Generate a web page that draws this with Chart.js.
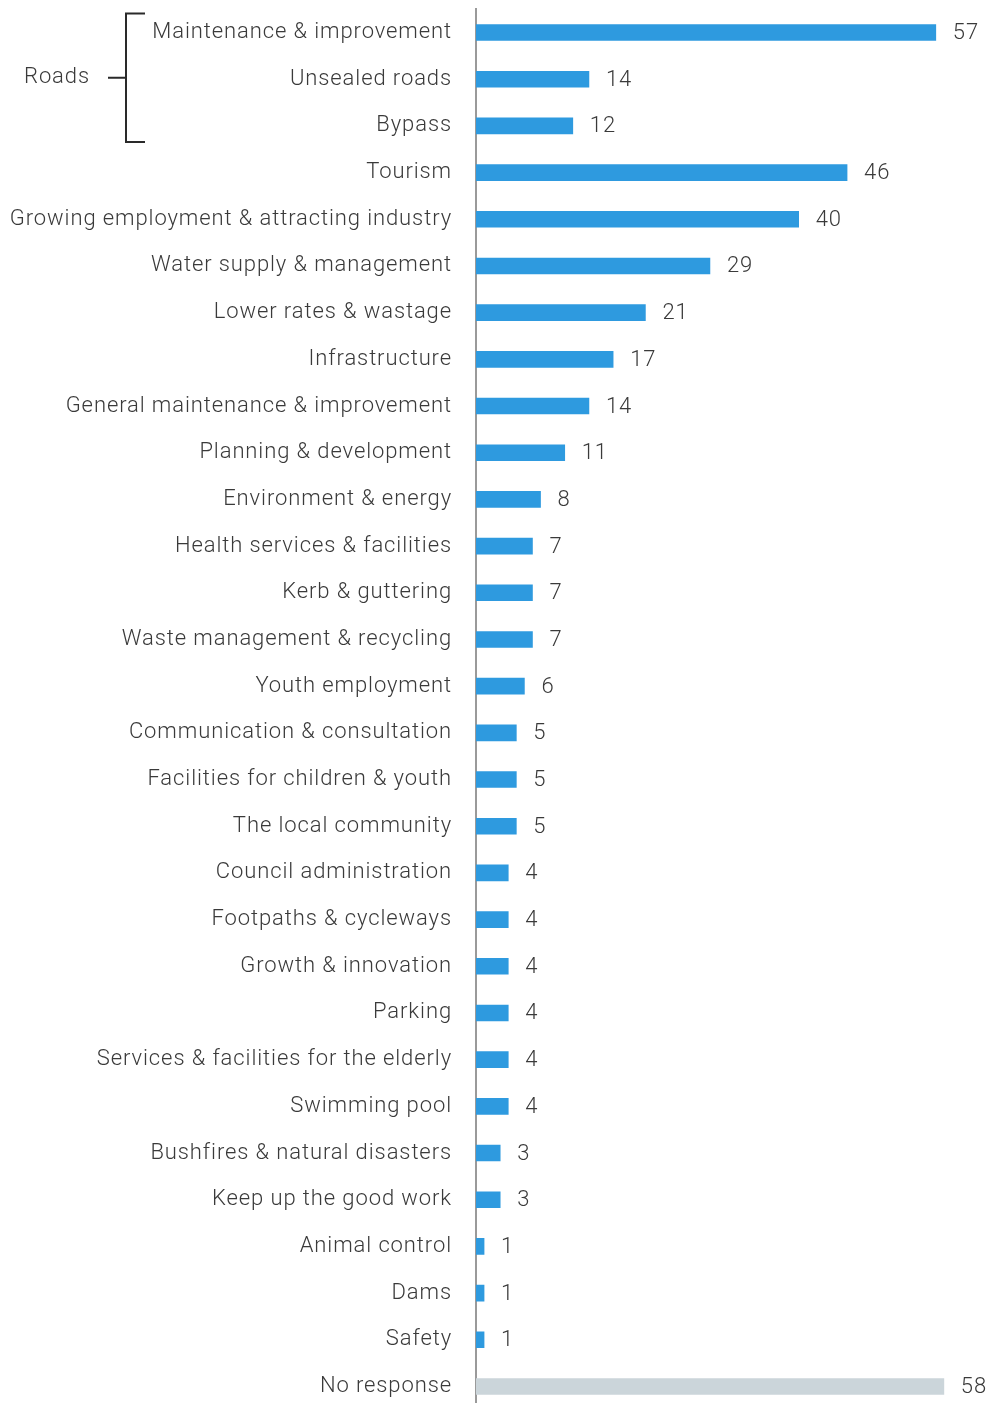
<!DOCTYPE html>
<html>
<head>
<meta charset="utf-8">
<script src="https://cdn.jsdelivr.net/npm/chart.js@4/dist/chart.umd.min.js"></script>
<style>
  html, body { margin: 0; padding: 0; background: #fff; overflow: hidden; }
  #wrap { position: absolute; left: 0; top: -4px; width: 989px; height: 1427px; }
</style>
</head>
<body>
<div id="wrap"><canvas id="chart"></canvas></div>
<script>
const categories = [
  "Maintenance & improvement",
  "Unsealed roads",
  "Bypass",
  "Tourism",
  "Growing employment & attracting industry",
  "Water supply & management",
  "Lower rates & wastage",
  "Infrastructure",
  "General maintenance & improvement",
  "Planning & development",
  "Environment & energy",
  "Health services & facilities",
  "Kerb & guttering",
  "Waste management & recycling",
  "Youth employment",
  "Communication & consultation",
  "Facilities for children & youth",
  "The local community",
  "Council administration",
  "Footpaths & cycleways",
  "Growth & innovation",
  "Parking",
  "Services & facilities for the elderly",
  "Swimming pool",
  "Bushfires & natural disasters",
  "Keep up the good work",
  "Animal control",
  "Dams",
  "Safety",
  "No response"
];

const responses = [57, 14, 12, 46, 40, 29, 21, 17, 14, 11, 8, 7, 7, 7, 6, 5, 5, 5, 4, 4, 4, 4, 4, 4, 3, 3, 1, 1, 1, 58];

// Categories gathered under the "Roads" bracket
const groupLabel = "Roads";
const groupMembers = ["Maintenance & improvement", "Unsealed roads", "Bypass"];

const BLUE = "#2E9ADF";
const GREY = "#CBD5DA";
const TEXT = "#3a3a3a";
const FONT = "Roboto, 'DejaVu Sans', sans-serif";
const SPACING = "0.9px";

const barColors = categories.map(c => c === "No response" ? GREY : BLUE);

// Slightly tracked-out lettering for every text on the canvas
const tracking = {
  id: "tracking",
  beforeUpdate(chart) { chart.ctx.letterSpacing = SPACING; },
  beforeLayout(chart) { chart.ctx.letterSpacing = SPACING; },
  beforeDraw(chart) { chart.ctx.letterSpacing = SPACING; }
};

// Writes each value just past the end of its bar
const valueLabels = {
  id: "valueLabels",
  afterDatasetsDraw(chart) {
    const ctx = chart.ctx;
    const meta = chart.getDatasetMeta(0);
    ctx.save();
    ctx.letterSpacing = SPACING;
    ctx.font = "300 22px " + FONT;
    ctx.fillStyle = TEXT;
    ctx.textAlign = "left";
    ctx.textBaseline = "middle";
    meta.data.forEach((bar, i) => {
      ctx.fillText(String(chart.data.datasets[0].data[i]), bar.x + 17, bar.y + 1);
    });
    ctx.restore();
  }
};

// Draws the bracket and its group name beside the first rows
const groupBracket = {
  id: "groupBracket",
  afterDraw(chart) {
    const ctx = chart.ctx;
    const y = chart.scales.y;
    const idx = groupMembers.map(m => categories.indexOf(m));
    const top = y.getPixelForValue(Math.min(...idx)) - 19;
    const bottom = y.getPixelForValue(Math.max(...idx)) + 16;
    const mid = (top + bottom) / 2;
    const bx = 126;
    ctx.save();
    ctx.strokeStyle = "#2a2a2a";
    ctx.lineWidth = 2;
    ctx.beginPath();
    ctx.moveTo(145, top);
    ctx.lineTo(bx, top);
    ctx.lineTo(bx, bottom);
    ctx.lineTo(145, bottom);
    ctx.moveTo(bx, mid);
    ctx.lineTo(108, mid);
    ctx.stroke();
    ctx.letterSpacing = SPACING;
    ctx.font = "300 22px " + FONT;
    ctx.fillStyle = TEXT;
    ctx.textAlign = "left";
    ctx.textBaseline = "middle";
    ctx.fillText(groupLabel, 24, mid);
    ctx.restore();
  }
};

new Chart(document.getElementById("chart"), {
  type: "bar",
  data: {
    labels: categories,
    datasets: [{
      data: responses,
      backgroundColor: barColors,
      borderWidth: 0,
      barThickness: 16
    }]
  },
  options: {
    indexAxis: "y",
    responsive: true,
    maintainAspectRatio: false,
    animation: false,
    layout: { padding: { top: 0, right: 29, bottom: 0, left: 0 } },
    plugins: {
      legend: { display: false },
      tooltip: { enabled: false }
    },
    scales: {
      x: {
        min: 0,
        max: 60,
        display: false,
        grid: { display: false }
      },
      y: {
        afterFit(scale) { scale.width = 476; },
        grid: {
          display: true,
          drawOnChartArea: false,
          drawTicks: true,
          tickLength: 24,
          tickColor: "rgba(0,0,0,0)"
        },
        border: { display: true, color: "#9a9a9a", width: 2 },
        ticks: {
          color: TEXT,
          padding: 0,
          font: { family: FONT, size: 22, weight: 300 }
        }
      }
    }
  },
  plugins: [tracking, valueLabels, groupBracket]
});
</script>
</body>
</html>
